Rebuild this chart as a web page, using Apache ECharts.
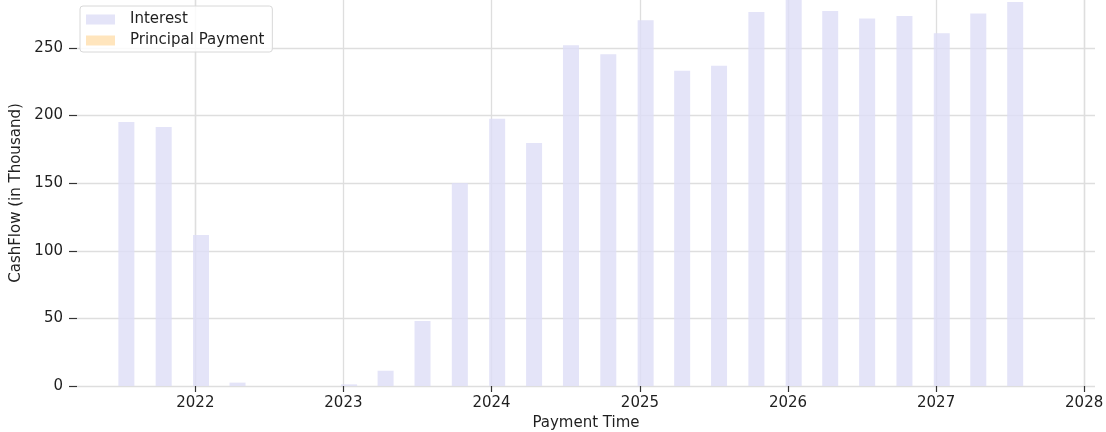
<!DOCTYPE html>
<html>
<head>
<meta charset="utf-8">
<script src="https://cdn.jsdelivr.net/npm/echarts@6/dist/echarts.min.js"></script>
<style>
html,body{margin:0;padding:0;background:#fff;}
#c{width:1106px;height:432px;}
</style>
</head>
<body>
<div id="c"></div>
<script>
const paymentDates = ['2021-07-15','2021-10-15','2022-01-15','2022-04-15','2022-07-15','2022-10-15',
  '2023-01-15','2023-04-15','2023-07-15','2023-10-15','2024-01-15','2024-04-15','2024-07-15',
  '2024-10-15','2025-01-15','2025-04-15','2025-07-15','2025-10-15','2026-01-15','2026-04-15',
  '2026-07-15','2026-10-15','2027-01-15','2027-04-15','2027-07-15'];
const interest = [195.3, 191.6, 111.7, 2.5, 0, 0, 1.2, 11.3, 48.1, 150.1, 197.6, 179.8, 252.0,
  245.4, 270.5, 233.2, 236.9, 276.6, 290, 277.4, 271.9, 273.7, 260.9, 275.6, 284.0];
const principal = [0,0,0,0,0,0,0,0,0,0,0,0,0,0,0,0,0,0,0,0,0,0,0,0,0];
const yearTicks = ['2022-01-01','2023-01-01','2024-01-01','2025-01-01','2026-01-01','2027-01-01','2028-01-01'];
const yTicks = [0, 50, 100, 150, 200, 250];

const font = 'DejaVu Sans';
const yearTs = yearTicks.map(d => +new Date(d + 'T00:00:00'));
const chart = echarts.init(document.getElementById('c'), null, {renderer:'canvas'});
chart.setOption({
  animation:false,
  backgroundColor:'#fff',
  grid:{left:77, right:11, top:0, bottom:46, containLabel:false, outerBoundsMode:'none'},
  legend:{
    left:80, top:6, orient:'vertical', icon:'rect', itemWidth:29, itemHeight:10, itemGap:6,
    padding:[6,8,4,6],
    backgroundColor:'rgba(255,255,255,0.85)', borderColor:'#d8d8d8', borderWidth:1, borderRadius:3,
    textStyle:{fontFamily:font, fontSize:15, color:'#1f1f1f', padding:[0,0,0,10]},
    data:['Interest','Principal Payment']
  },
  xAxis:{
    type:'time',
    min:'2021-04-04', max:'2028-01-08',
    name:'Payment Time', nameLocation:'middle', nameGap:29,
    nameTextStyle:{fontFamily:font, fontSize:15, color:'#1f1f1f'},
    axisLine:{show:false},
    axisTick:{show:true, length:6, customValues:yearTs, lineStyle:{color:'#333', width:1.2}},
    axisLabel:{formatter:'{yyyy}', customValues:yearTs, fontFamily:font, fontSize:15, color:'#1f1f1f', margin:10},
    splitLine:{show:true, lineStyle:{color:'#dedede', width:1.3}},
    minorTick:{show:false}
  },
  yAxis:{
    type:'value', min:0, max:285.5, interval:50,
    name:'CashFlow (in Thousand)', nameLocation:'middle', nameGap:48,
    nameTextStyle:{fontFamily:font, fontSize:15, color:'#1f1f1f'},
    axisLine:{show:false},
    axisTick:{show:true, length:8, customValues:yTicks, lineStyle:{color:'#333', width:1.2}},
    axisLabel:{fontFamily:font, fontSize:15, color:'#1f1f1f', margin:14, customValues:yTicks},
    splitLine:{show:true, lineStyle:{color:'#dedede', width:1.3}}
  },
  series:[
    {name:'Interest', type:'bar', stack:'cf', barWidth:16,
     itemStyle:{color:'rgba(221,221,246,0.8)'},
     data:paymentDates.map((d,i)=>[d, interest[i]])},
    {name:'Principal Payment', type:'bar', stack:'cf', barWidth:16,
     itemStyle:{color:'rgba(255,222,173,0.8)'},
     data:paymentDates.map((d,i)=>[d, principal[i]])}
  ]
});
</script>
</body>
</html>
